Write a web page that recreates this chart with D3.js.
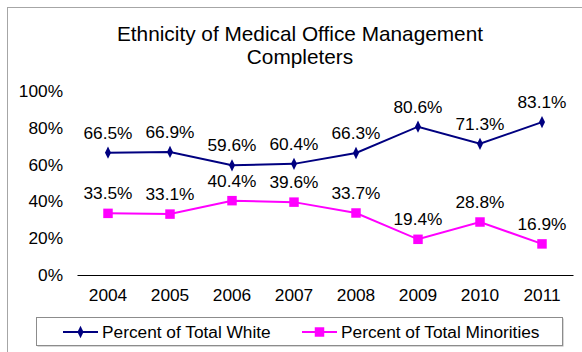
<!DOCTYPE html>
<html>
<head>
<meta charset="utf-8">
<script src="https://cdn.jsdelivr.net/npm/d3@7"></script>
<style>
  html, body { margin: 0; padding: 0; background: #fff; }
  svg { display: block; font-family: "Liberation Sans", Arial, sans-serif; }
</style>
</head>
<body>
<svg id="chart" width="582" height="352"></svg>
<script>
// Completer ethnicity by year
const years = ["2004", "2005", "2006", "2007", "2008", "2009", "2010", "2011"];
const whitePct = [66.5, 66.9, 59.6, 60.4, 66.3, 80.6, 71.3, 83.1];
const minorityPct = [33.5, 33.1, 40.4, 39.6, 33.7, 19.4, 28.8, 16.9];
const yTicks = [0, 20, 40, 60, 80, 100];
const seriesNames = ["Percent of Total White", "Percent of Total Minorities"];

const svg = d3.select("#chart");
const FS = 17.3;

// outer chart frame
svg.append("rect")
  .attr("x", 7.5).attr("y", 7.5)
  .attr("width", 600).attr("height", 400)
  .attr("fill", "none").attr("stroke", "#a6a6a6").attr("stroke-width", 1);

// title
const title = svg.append("text")
  .attr("x", 300).attr("text-anchor", "middle")
  .attr("font-size", 20.8).attr("fill", "#000");
title.append("tspan").attr("x", 300).attr("y", 41).text("Ethnicity of Medical Office Management");
title.append("tspan").attr("x", 300).attr("y", 64).text("Completers");

const x = d3.scaleBand().domain(years).range([77, 573]);
const y = d3.scaleLinear().domain([0, 100]).range([275, 91]);
const cx = d => x(d) + x.bandwidth() / 2;

// y axis labels (no axis line)
const yAxis = d3.axisLeft(y).tickValues(yTicks).tickSize(0).tickPadding(0)
  .tickFormat(d => d + "%");
svg.append("g").attr("transform", "translate(63,0)").call(yAxis)
  .call(g => g.select(".domain").remove())
  .call(g => g.selectAll("text").attr("font-size", FS)
    .attr("font-family", "Liberation Sans, Arial, sans-serif").attr("fill", "#000"));

// x axis
const xAxis = d3.axisBottom(x).tickSize(0).tickPadding(14);
svg.append("g").attr("transform", "translate(0,275)").call(xAxis)
  .call(g => g.select(".domain").attr("stroke", "#000").attr("stroke-width", 1.2))
  .call(g => g.selectAll("text").attr("font-size", FS)
    .attr("font-family", "Liberation Sans, Arial, sans-serif").attr("fill", "#000"));

const series = [
  { name: seriesNames[0], values: whitePct, color: "#000080", shape: d3.symbolDiamond, size: 44 },
  { name: seriesNames[1], values: minorityPct, color: "#FF00FF", shape: d3.symbolSquare, size: 90 }
];

const line = d3.line().x((d, i) => cx(years[i])).y(d => y(d));

series.forEach(s => {
  svg.append("path").datum(s.values)
    .attr("d", line).attr("fill", "none")
    .attr("stroke", s.color).attr("stroke-width", 2);

  svg.append("g").selectAll("path").data(s.values).join("path")
    .attr("d", d3.symbol(s.shape, s.size))
    .attr("transform", (d, i) => `translate(${cx(years[i])},${y(d)})` + (s.shape === d3.symbolDiamond ? " scale(0.85,1)" : ""))
    .attr("fill", s.color);

  svg.append("g").selectAll("text").data(s.values).join("text")
    .attr("x", (d, i) => cx(years[i]))
    .attr("y", d => y(d) - 14)
    .attr("text-anchor", "middle")
    .attr("font-size", FS).attr("fill", "#000")
    .text(d => d.toFixed(1) + "%");
});

// legend
const lg = svg.append("g");
lg.append("rect").attr("x", 37.5).attr("y", 318.5).attr("width", 526).attr("height", 28)
  .attr("fill", "#b0b0b0");
lg.append("rect").attr("x", 36.5).attr("y", 317.5).attr("width", 526).attr("height", 28)
  .attr("fill", "#fff").attr("stroke", "#8c8c8c").attr("stroke-width", 1);

const legendPos = [{ lx: 63, tx: 102 }, { lx: 302, tx: 341 }];
series.forEach((s, i) => {
  const p = legendPos[i];
  lg.append("line").attr("x1", p.lx).attr("x2", p.lx + 35)
    .attr("y1", 332).attr("y2", 332)
    .attr("stroke", s.color).attr("stroke-width", 2);
  lg.append("path").attr("d", d3.symbol(s.shape, s.size))
    .attr("transform", `translate(${p.lx + 17.5},332)` + (s.shape === d3.symbolDiamond ? " scale(0.85,1)" : ""))
    .attr("fill", s.color);
  lg.append("text").attr("x", p.tx).attr("y", 338)
    .attr("font-size", FS).attr("fill", "#000").text(s.name);
});
</script>
</body>
</html>
